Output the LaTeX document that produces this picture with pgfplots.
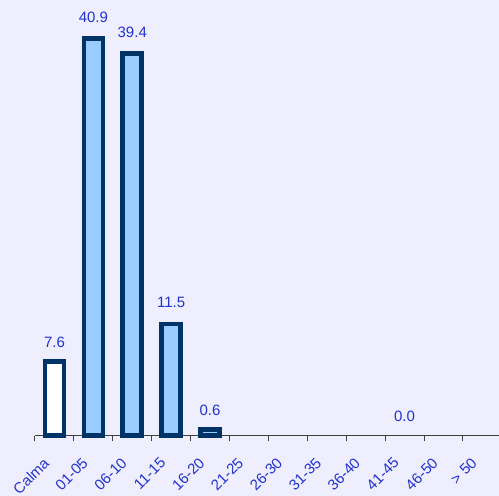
\documentclass[border=0pt]{standalone}
\usepackage{pgfplots}
\pgfplotsset{compat=1.18}
\usepackage{fontspec}
\setmainfont{Liberation Sans}
\definecolor{bgc}{HTML}{EEEEFF}
\definecolor{barline}{HTML}{003366}
\definecolor{barfill}{HTML}{99CCFF}
\definecolor{lblc}{HTML}{2233CC}
\definecolor{axc}{HTML}{404040}
\begin{document}
\begin{tikzpicture}
\fill[bgc, use as bounding box] (-54.45bp,-60.5bp) rectangle (444.55bp,435.5bp);
\begin{axis}[
  anchor=origin, at={(0,0)},
  x=38.9bp, y=9.7bp,
  xmin=-0.5, xmax=11.8, ymin=0, ymax=44,
  clip=false,
  axis x line*=bottom, axis y line=none,
  axis line style={axc, line width=0.9bp},
  xtick={0,...,11},
  xticklabels={Calma,01-05,06-10,11-15,16-20,21-25,26-30,31-35,36-40,41-45,46-50,> 50},
  major tick length=0pt,
  minor xtick={-0.5,0.5,...,10.5},
  minor tick length=5.5bp,
  every minor tick/.style={axc, line width=1bp},
  tick align=outside,
  xticklabel style={xshift=-12bp, yshift=-21bp, rotate=45, anchor=north east, inner sep=0pt, font=\fontsize{15bp}{17bp}\selectfont, text=lblc},
]
\addplot[ybar, bar shift=0pt, bar width=19bp, draw=barline, line width=4.6bp, fill=white] coordinates {(0,7.6)};
\addplot[ybar, bar shift=0pt, bar width=19bp, draw=barline, line width=4.6bp, fill=barfill] coordinates {(1,40.9) (2,39.4) (3,11.5) (4,0.6)};
\addplot[draw=none, mark=none, nodes near coords, point meta=explicit symbolic,
  nodes near coords style={anchor=south, inner sep=0pt, yshift=15.8bp, text=lblc, font=\fontsize{15bp}{17bp}\selectfont}]
  table[meta=lab] {
x y lab
1 40.9 40.9
2 39.4 39.4
3 11.5 11.5
};
\addplot[draw=none, mark=none, nodes near coords, point meta=explicit symbolic,
  nodes near coords style={anchor=south, inner sep=0pt, yshift=13.6bp, text=lblc, font=\fontsize{15bp}{17bp}\selectfont}]
  table[meta=lab] {
x y lab
0 7.6 7.6
4 0.6 0.6
9 0 0.0
};
\end{axis}
\end{tikzpicture}
\end{document}
